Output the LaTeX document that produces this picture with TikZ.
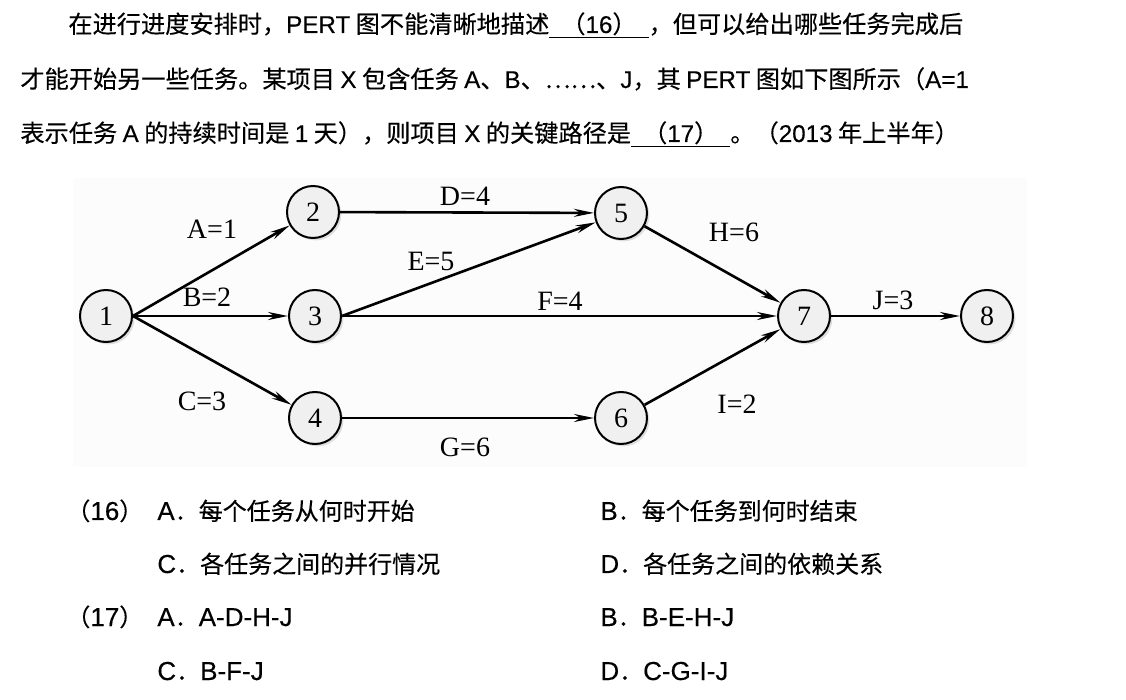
\documentclass[tikz,border=0pt]{standalone}
\usepackage{fontspec}
\setmainfont{Liberation Serif}
\newfontfamily\cjk[FakeBold=0.3]{Noto Sans CJK SC}
\newfontfamily\lat[FakeBold=0.3]{Liberation Sans}
\usetikzlibrary{arrows.meta,shadows}

% underlined blank of the question
\newcommand\blank[1]{\setbox0\hbox{#1}\rlap{\rule[-2.6pt]{\wd0}{0.8pt}}\box0}
% latin part of a choice
\newcommand\olat[1]{{\lat\fontsize{13}{14}\selectfont #1}}

\tikzset{
  event/.style={circle, draw, line width=1pt, fill=black!6, minimum size=26pt, inner sep=0pt,
    font=\fontsize{14}{14}\selectfont,
    drop shadow={shadow xshift=1.2pt, shadow yshift=-1.2pt, fill=black!40, opacity=0.3}},
  task/.style={line width=1.3pt, -{Stealth[length=10pt,width=4pt]}},
  dur/.style={font=\fontsize{14}{14}\selectfont, inner sep=0pt},
  qline/.style={anchor=base west, inner sep=0pt, font=\cjk\fontsize{12.1}{14}\selectfont},
  opt/.style={anchor=base west, inner sep=0pt, font=\cjk\fontsize{12}{14}\selectfont},
}

\begin{document}
\begin{tikzpicture}[x=0.5pt, y=-0.5pt]
  \useasboundingbox[fill=white] (0,0) rectangle (1126,700);
  \fill[black!1.2] (73,178) rectangle (1027,467);

  % question text
  \node[qline] (q1) at (68,33) {在进行进度安排时，{\lat PERT} 图不能清晰地描述\blank{\hspace{6pt}（{\lat 16}）\hspace{6pt}}，但可以给出哪些任务完成后};
  \node[qline] (q2) at (20,88) {才能开始另一些任务。某项目 {\lat X} 包含任务 {\lat A}、{\lat B}、……、{\lat J}，其 {\lat PERT} 图如下图所示（{\lat A=1}};
  \node[qline] (q3) at (20,142) {表示任务 {\lat A} 的持续时间是 {\lat 1} 天），则项目 {\lat X} 的关键路径是\blank{\hspace{6pt}（{\lat 17}）\hspace{6pt}}。（{\lat 2013} 年上半年）};

  % events
  \node[event] (e1) at (106,316) {1};
  \node[event] (e2) at (313,212) {2};
  \node[event] (e3) at (315,316) {3};
  \node[event] (e4) at (315,418) {4};
  \node[event] (e5) at (621,213) {5};
  \node[event] (e6) at (621,418) {6};
  \node[event] (e7) at (804,316) {7};
  \node[event] (e8) at (987,316) {8};

  % tasks
  \draw[task] (e1.east) -- (e2);
  \draw[task] (e1.east) -- (e3);
  \draw[task] (e1.east) -- (e4);
  \draw[task] (e2) -- (e5);
  \draw[task] (e3.east) -- (e5);
  \draw[task] (e3) -- (e7);
  \draw[task] (e4) -- (e6);
  \draw[task] (e5) -- (e7);
  \draw[task] (e6) -- (e7);
  \draw[task] (e7) -- (e8);

  % durations
  \node[dur] (dA) at (212,229) {A=1};
  \node[dur] (dB) at (207,297) {B=2};
  \node[dur] (dC) at (202,401) {C=3};
  \node[dur] (dD) at (465,196) {D=4};
  \node[dur] (dE) at (431,261) {E=5};
  \node[dur] (dF) at (560,301) {F=4};
  \node[dur] (dG) at (465,447) {G=6};
  \node[dur] (dH) at (734,232) {H=6};
  \node[dur] (dI) at (737,404) {I=2};
  \node[dur] (dJ) at (893,300) {J=3};

  % choices
  \node[opt] (n16) at (66,520) {（\olat{16}）};
  \node[opt] (o16a) at (157,520) {\olat{A}．每个任务从何时开始};
  \node[opt] (o16b) at (600,520) {\olat{B}．每个任务到何时结束};
  \node[opt] (o16c) at (157,573) {\olat{C}．各任务之间的并行情况};
  \node[opt] (o16d) at (600,573) {\olat{D}．各任务之间的依赖关系};
  \node[opt] (n17) at (66,626) {（\olat{17}）};
  \node[opt] (o17a) at (157,626) {\olat{A}．\olat{A-D-H-J}};
  \node[opt] (o17b) at (600,626) {\olat{B}．\olat{B-E-H-J}};
  \node[opt] (o17c) at (157,680) {\olat{C}．\olat{B-F-J}};
  \node[opt] (o17d) at (600,680) {\olat{D}．\olat{C-G-I-J}};
\end{tikzpicture}
\end{document}
